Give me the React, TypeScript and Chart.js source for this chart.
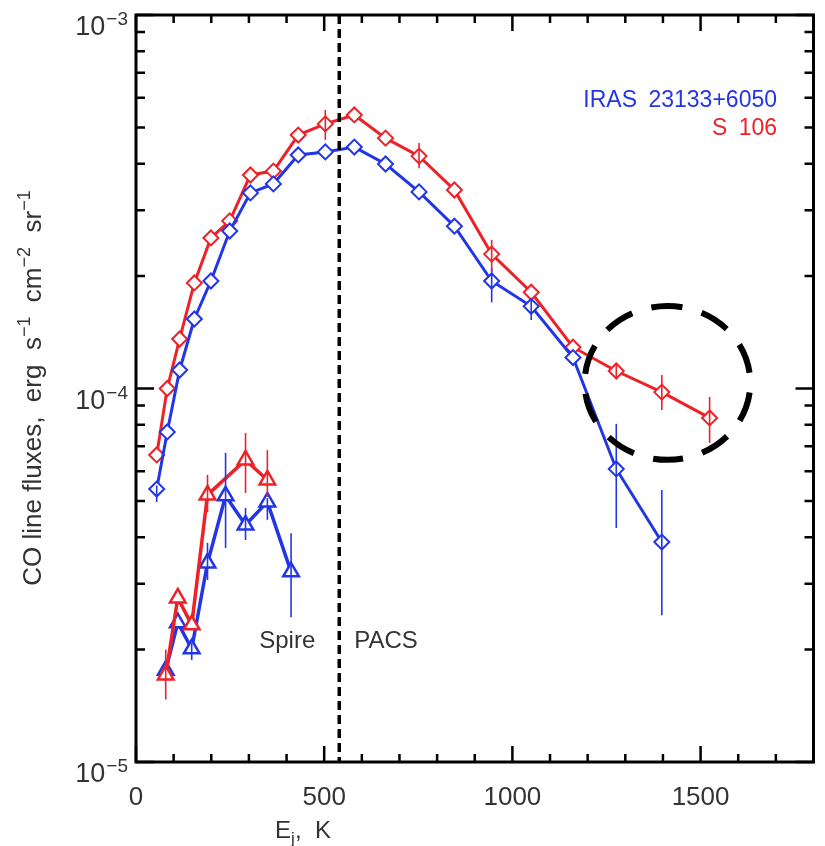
import { useEffect, useRef } from 'react';
import { Chart, registerables } from 'chart.js';

Chart.register(...registerables);

// ---- data ----
const E_CO = [55, 83, 116, 155, 199, 249, 304, 365, 431, 503, 580, 663, 752, 846, 945, 1050, 1161, 1276, 1397, 1524];
const S106_CO = [6.64e-5, 1.0e-4, 1.357e-4, 1.917e-4, 2.53e-4, 2.81e-4, 3.73e-4, 3.82e-4, 4.77e-4, 5.11e-4, 5.4e-4, 4.68e-4, 4.19e-4, 3.4e-4, 2.29e-4, 1.81e-4, 1.29e-4, 1.114e-4, 9.78e-5, 8.34e-5];
const S106_CO_LO = [null, null, null, null, null, null, null, null, null, 4.63e-4, null, null, 3.89e-4, null, 2.05e-4, null, null, 1.07e-4, 8.76e-5, 7.15e-5];
const S106_CO_HI = [null, null, null, null, null, null, null, null, null, 5.57e-4, null, null, 4.54e-4, null, 2.5e-4, null, null, 1.16e-4, 1.087e-4, 9.49e-5];
const IRAS_CO = [5.38e-5, 7.65e-5, 1.121e-4, 1.535e-4, 1.94e-4, 2.64e-4, 3.34e-4, 3.53e-4, 4.22e-4, 4.3e-4, 4.43e-4, 3.99e-4, 3.36e-4, 2.72e-4, 1.94e-4, 1.66e-4, 1.21e-4, 6.09e-5, 3.88e-5];
const IRAS_CO_LO = [4.97e-5, null, null, null, null, null, null, null, null, null, null, null, null, null, 1.7e-4, 1.525e-4, null, 4.23e-5, 2.47e-5];
const IRAS_CO_HI = [5.5e-5, null, null, null, null, null, null, null, null, null, null, null, null, null, 2.1e-4, 1.725e-4, null, 8.04e-5, 5.35e-5];

const E_13CO_S106 = [79, 111, 148, 190, 291, 349];
const S106_13CO = [1.71e-5, 2.75e-5, 2.33e-5, 5.19e-5, 6.44e-5, 5.69e-5];
const S106_13CO_LO = [1.47e-5, null, null, 4.67e-5, 5.25e-5, 5.12e-5];
const S106_13CO_HI = [2.0e-5, null, null, 5.87e-5, 7.6e-5, 6.84e-5];
const E_13CO_IRAS = [79, 111, 148, 190, 238, 291, 349, 412];
const IRAS_13CO = [1.76e-5, 2.36e-5, 2.01e-5, 3.41e-5, 5.16e-5, 4.31e-5, 4.97e-5, 3.23e-5];
const IRAS_13CO_LO = [null, null, 1.875e-5, 3.07e-5, 3.74e-5, 3.93e-5, 4.45e-5, 2.44e-5];
const IRAS_13CO_HI = [null, null, 2.08e-5, 3.86e-5, 6.72e-5, 4.79e-5, 5.09e-5, 4.1e-5];

const X_MAJOR = [0, 500, 1000, 1500];
const X_MINOR = [100, 200, 300, 400, 600, 700, 800, 900, 1100, 1200, 1300, 1400, 1600, 1700];
const Y_MAJOR = [1e-5, 1e-4, 1e-3];
const Y_EXP = ['−5', '−4', '−3'];
const Y_MINOR_MULT = [2, 3, 4, 5, 6, 7, 8, 9];

const DIVIDER_E = 540;
const CIRCLE_E = 1412;
const CIRCLE_RX = 220;
const CIRCLE_LOGY = -3.985;
const CIRCLE_RLOG = 0.206;

const LEGEND = ['IRAS 23133+6050', 'S 106'];
const BLUE = '#2236e6';
const RED = '#ec2228';
const TXT = '#333333';
const FONT = '"Liberation Sans", Arial, sans-serif';

const pts = (xs: number[], ys: number[]) => ys.map((v, i) => ({ x: xs[i], y: v }));

const decor = {
  id: 'decor',
  afterDatasetsDraw(chart: any) {
    const ctx = chart.ctx as CanvasRenderingContext2D;
    const xs = chart.scales.x;
    const ys = chart.scales.y;
    const a = chart.chartArea;
    ctx.save();
    // error bars
    chart.data.datasets.forEach((ds: any) => {
      if (!ds.errLo) return;
      ctx.strokeStyle = ds.borderColor;
      ctx.lineWidth = 1.6;
      ds.data.forEach((p: any, j: number) => {
        const lo = ds.errLo[j];
        const hi = ds.errHi[j];
        if (lo == null || hi == null) return;
        const px = xs.getPixelForValue(p.x);
        ctx.beginPath();
        ctx.moveTo(px, ys.getPixelForValue(lo));
        ctx.lineTo(px, ys.getPixelForValue(hi));
        ctx.stroke();
      });
    });
    // divider
    const dx = xs.getPixelForValue(DIVIDER_E);
    ctx.strokeStyle = '#000';
    ctx.lineWidth = 3.5;
    ctx.setLineDash([9, 5]);
    ctx.beginPath();
    ctx.moveTo(dx, a.top);
    ctx.lineTo(dx, a.bottom);
    ctx.stroke();
    // dashed ellipse
    const cx = xs.getPixelForValue(CIRCLE_E);
    const rx = xs.getPixelForValue(CIRCLE_E + CIRCLE_RX) - cx;
    const cy = ys.getPixelForValue(Math.pow(10, CIRCLE_LOGY));
    const ry = cy - ys.getPixelForValue(Math.pow(10, CIRCLE_LOGY + CIRCLE_RLOG));
    ctx.lineWidth = 6;
    ctx.setLineDash([30, 20]);
    ctx.lineDashOffset = 15;
    ctx.beginPath();
    ctx.ellipse(cx, cy, rx, ry, 0, -Math.PI / 2, Math.PI * 1.5);
    ctx.stroke();
    ctx.setLineDash([]);
    ctx.lineDashOffset = 0;

    // frame
    ctx.lineWidth = 3;
    ctx.strokeRect(a.left, a.top, a.right - a.left, a.bottom - a.top);
    // ticks
    ctx.lineWidth = 2.5;
    const vt = (v: number, len: number) => {
      const px = xs.getPixelForValue(v);
      ctx.beginPath();
      ctx.moveTo(px, a.bottom);
      ctx.lineTo(px, a.bottom - len);
      ctx.moveTo(px, a.top);
      ctx.lineTo(px, a.top + len);
      ctx.stroke();
    };
    X_MAJOR.forEach((v) => vt(v, 16));
    X_MINOR.forEach((v) => vt(v, 8));
    const ht = (v: number, len: number) => {
      const py = ys.getPixelForValue(v);
      ctx.beginPath();
      ctx.moveTo(a.left, py);
      ctx.lineTo(a.left + len, py);
      ctx.moveTo(a.right, py);
      ctx.lineTo(a.right - len, py);
      ctx.stroke();
    };
    Y_MAJOR.forEach((v) => ht(v, 18));
    Y_MAJOR.slice(0, -1).forEach((d) => Y_MINOR_MULT.forEach((m) => ht(d * m, 9)));

    // tick labels
    ctx.fillStyle = TXT;
    ctx.textBaseline = 'alphabetic';
    ctx.font = `26px ${FONT}`;
    ctx.textAlign = 'center';
    X_MAJOR.forEach((v) => ctx.fillText(String(v), xs.getPixelForValue(v), 805));
    Y_MAJOR.forEach((v, i) => {
      const py = ys.getPixelForValue(v);
      const right = a.left - 8;
      ctx.font = `19px ${FONT}`;
      ctx.textAlign = 'right';
      const sw = ctx.measureText(Y_EXP[i]).width;
      ctx.fillText(Y_EXP[i], right, py + 10);
      ctx.font = `27px ${FONT}`;
      ctx.fillText('10', right - sw - 1, py + 20);
    });

    // x title: E_j, K
    {
      const base = 838;
      const p1 = 'E';
      const p2 = 'j';
      const p3 = ',  K';
      ctx.textAlign = 'left';
      ctx.font = `24px ${FONT}`;
      const w1 = ctx.measureText(p1).width;
      const w3 = ctx.measureText(p3).width;
      ctx.font = `17px ${FONT}`;
      const w2 = ctx.measureText(p2).width;
      const x0 = 303 - (w1 + w2 + w3) / 2;
      ctx.font = `24px ${FONT}`;
      ctx.fillText(p1, x0, base);
      ctx.font = `17px ${FONT}`;
      ctx.fillText(p2, x0 + w1, base + 6);
      ctx.font = `24px ${FONT}`;
      ctx.fillText(p3, x0 + w1 + w2, base);
    }

    // y title
    {
      const parts: [string, boolean][] = [
        ['CO line fluxes,  erg  s', false], ['−1', true], ['  cm', false], ['−2', true], ['  sr', false], ['−1', true],
      ];
      const fmain = `26px ${FONT}`;
      const fsup = `18px ${FONT}`;
      let total = 0;
      const widths = parts.map(([t, s]) => {
        ctx.font = s ? fsup : fmain;
        const w = ctx.measureText(t).width;
        total += w;
        return w;
      });
      ctx.save();
      ctx.translate(41, 388);
      ctx.rotate(-Math.PI / 2);
      ctx.textAlign = 'left';
      let xx = -total / 2;
      parts.forEach(([t, s], i) => {
        ctx.font = s ? fsup : fmain;
        ctx.fillText(t, xx, s ? -11 : 0);
        xx += widths[i];
      });
      ctx.restore();
    }

    // Spire / PACS
    ctx.font = `24px ${FONT}`;
    ctx.fillStyle = TXT;
    ctx.textAlign = 'right';
    ctx.fillText('Spire', dx - 24, 648);
    ctx.textAlign = 'left';
    ctx.fillText('PACS', dx + 15, 648);

    // legend
    ctx.font = `23px ${FONT}`;
    ctx.textAlign = 'right';
    (ctx as any).wordSpacing = '5px';
    ctx.fillStyle = BLUE;
    ctx.fillText(LEGEND[0], 777, 107);
    ctx.fillStyle = RED;
    ctx.fillText(LEGEND[1], 777, 135);
    (ctx as any).wordSpacing = '0px';
    ctx.restore();
  },
};

export default function App() {
  const ref = useRef<HTMLCanvasElement>(null);
  useEffect(() => {
    const canvas = ref.current!;
    const chart = new Chart(canvas, {
      type: 'scatter',
      data: {
        datasets: [
          {
            label: 'IRAS CO', data: pts(E_CO, IRAS_CO), errLo: IRAS_CO_LO, errHi: IRAS_CO_HI,
            showLine: true, borderColor: BLUE, borderWidth: 3, pointStyle: 'rectRot', pointRadius: 7.5,
            pointBorderWidth: 2, pointBackgroundColor: '#fff', pointBorderColor: BLUE,
          },
          {
            label: 'S106 CO', data: pts(E_CO, S106_CO), errLo: S106_CO_LO, errHi: S106_CO_HI,
            showLine: true, borderColor: RED, borderWidth: 3, pointStyle: 'rectRot', pointRadius: 7.5,
            pointBorderWidth: 2, pointBackgroundColor: '#fff', pointBorderColor: RED,
          },
          {
            label: 'S106 13CO', data: pts(E_13CO_S106, S106_13CO), errLo: S106_13CO_LO, errHi: S106_13CO_HI,
            showLine: true, borderColor: RED, borderWidth: 3.5, pointStyle: 'triangle', pointRadius: 9,
            pointBorderWidth: 2.5, pointBackgroundColor: '#fff', pointBorderColor: RED,
          },
          {
            label: 'IRAS 13CO', data: pts(E_13CO_IRAS, IRAS_13CO), errLo: IRAS_13CO_LO, errHi: IRAS_13CO_HI,
            showLine: true, borderColor: BLUE, borderWidth: 3.5, pointStyle: 'triangle', pointRadius: 9,
            pointBorderWidth: 2.5, pointBackgroundColor: '#fff', pointBorderColor: BLUE,
          },
        ] as any,
      },
      options: {
        responsive: false,
        animation: false,
        devicePixelRatio: 1,
        layout: { padding: { left: 136, right: 3, top: 15, bottom: 84 } },
        plugins: { legend: { display: false }, tooltip: { enabled: false } },
        elements: { line: { tension: 0 } },
        scales: {
          x: { type: 'linear', min: 0, max: 1800, display: false },
          y: { type: 'logarithmic', min: 1e-5, max: 1e-3, display: false },
        },
      },
      plugins: [decor],
    });
    return () => chart.destroy();
  }, []);
  return (
    <div style={{ position: 'absolute', left: 0, top: 0, width: 825, height: 846, background: '#fff' }}>
      <canvas ref={ref} width={825} height={846} style={{ display: 'block' }} />
    </div>
  );
}
